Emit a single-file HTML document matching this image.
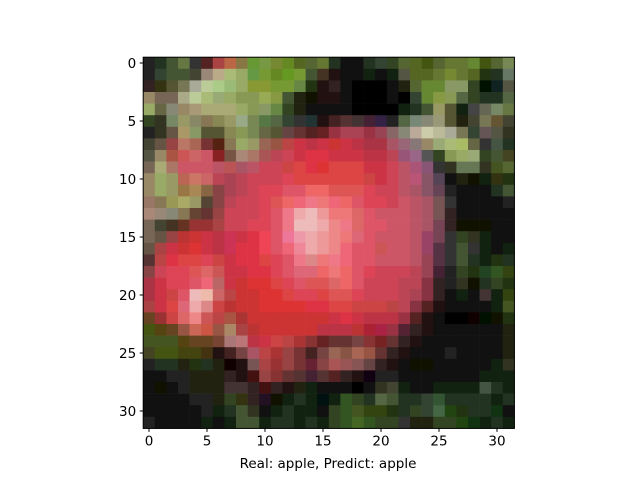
<!DOCTYPE html>
<html><head><meta charset="utf-8">
<style>
html,body{margin:0;padding:0;background:#fff;width:640px;height:480px;overflow:hidden}
svg{display:block}
text{font-family:"DejaVu Sans","Liberation Sans",sans-serif;font-size:13.5px;fill:#000}
</style></head>
<body>
<svg id="chart" width="640" height="480" xmlns="http://www.w3.org/2000/svg">
<g id="cells"></g>
<rect x="143.2" y="57.2" width="371.2" height="371.2" fill="none" stroke="#000" stroke-width="1"/>
<g id="ticks"></g>
<text x="328" y="468" text-anchor="middle">Real: apple, Predict: apple</text>
</svg>
<script>
const rowsLeft = [
"222 232 453 674 333 522 a44 b64 874 693 794 783 682 562 563 673",
"222 343 453 453 443 987 ba8 ab7 9a6 694 793 682 692 793 453 432",
"322 331 553 775 aa9 bc9 ac8 9b7 9a6 893 893 793 793 684 231 211",
"986 765 765 aa8 bc9 ab7 9a7 9a6 895 895 9a5 894 453 221 110 211",
"9a6 664 887 986 a97 aa7 aa7 aa7 9a6 895 896 684 342 221 111 111",
"342 332 786 996 886 875 885 996 9a8 785 574 564 343 333 233 211",
"222 332 654 a96 896 553 553 885 895 785 664 553 644 633 522 622",
"443 654 944 b76 a65 733 521 875 9a6 996 965 954 b44 c34 b34 c34",
"554 986 a54 c55 c66 c56 822 754 a87 a76 a55 b45 c45 c34 d34 d34",
"765 aa7 a76 c56 c56 c56 b56 b55 a56 b56 c45 c45 c44 d44 d34 d33",
"986 9a6 996 b65 c76 c66 b45 a45 b45 c45 c45 c45 d45 d44 d44 d44",
"986 9a6 996 974 a85 864 844 a45 b45 c45 d45 d45 d56 d56 e66 e66",
"976 875 995 aa6 996 543 844 b45 c45 c45 d45 d55 e66 e67 e78 e77",
"a87 987 887 875 643 633 944 c45 c45 c45 d45 d56 e78 eaa ebb e99",
"765 443 432 632 933 933 a44 c45 c45 d45 d45 d56 e78 ebb ebb eaa",
"765 654 944 b33 c33 c34 b34 c35 c34 d34 e45 d56 e79 e9a eaa e99",
"654 a44 c34 c33 d33 c34 b34 c35 d34 d34 e45 d56 e67 e89 eaa e99",
"533 b44 d34 d44 d44 d45 c44 c34 d34 d34 d44 d45 d56 e78 d88 e77",
"844 c45 d45 d45 d55 d66 c55 c34 c34 d34 d34 d45 d56 d67 d67 e66",
"a34 c34 d45 d45 d56 e67 b66 c34 c33 d33 d33 d44 d45 d56 d55 d55",
"a34 c34 c44 d56 ebb eba c66 b44 c33 c33 d33 d33 d44 d45 d45 d44",
"a44 c34 d44 d67 eaa d88 c44 b33 c33 c33 d33 d33 d33 d33 d34 d34",
"642 933 c44 d66 e88 c55 b44 a54 a33 c33 c33 c33 c33 c33 c33 c33",
"451 541 642 954 c65 c54 954 a86 a44 b33 c33 c33 c33 c33 c33 b34",
"452 452 452 541 642 642 743 a77 b77 b34 c34 c44 b44 a33 833 622",
"442 451 451 441 441 431 211 422 744 a56 b44 a33 944 733 422 744",
"222 232 232 221 231 232 221 100 211 755 a44 933 944 733 623 844",
"111 111 222 222 221 221 221 322 211 411 944 833 633 533 423 533",
"111 110 111 222 221 221 221 433 433 322 411 322 211 221 121 111",
"111 111 111 111 222 222 221 342 331 322 212 110 121 232 121 011",
"111 111 111 111 111 222 121 232 453 332 111 121 232 121 121 111",
"222 111 111 111 111 121 111 121 453 453 121 232 232 121 232 121"
];
const rowsRight = [
"232 111 111 232 343 342 563 562 451 563 673 673 683 451 563 785",
"211 111 111 121 111 121 554 562 562 673 783 673 562 231 232 676",
"322 111 000 000 000 111 221 563 683 683 896 896 342 010 122 554",
"211 111 000 000 000 111 000 343 683 894 895 564 342 232 232 564",
"111 111 000 000 000 000 121 232 453 996 553 121 444 665 786 674",
"422 533 433 423 324 222 564 787 887 997 553 221 443 775 653 443",
"934 a45 a45 934 945 866 887 ba9 cca bb9 aa9 775 343 655 554 332",
"c33 c34 b34 a34 a34 a56 967 877 986 9a7 ab7 ab6 664 333 454 232",
"c34 c34 c34 b34 b34 b45 957 968 555 342 895 9a6 9a7 342 453 442",
"d44 d44 d44 c34 c34 c45 b56 a57 857 333 332 675 675 332 452 563",
"d44 d44 d44 c44 c34 c45 b56 b57 856 545 111 221 110 121 331 231",
"d55 d55 d55 d45 c45 c45 b56 a56 856 645 222 111 111 111 232 453",
"e67 e66 d56 d45 d45 c45 c56 b56 a56 755 333 111 111 111 111 222",
"e77 e77 d66 d56 c56 c56 c56 b56 a56 755 322 111 111 111 111 111",
"e88 e78 d66 d56 d56 c56 c56 b56 a56 745 322 110 110 110 111 111",
"e88 e77 d67 d56 c56 c56 c56 b56 946 745 333 342 332 121 111 111",
"e88 e67 d56 d56 c55 c56 c56 b56 946 534 333 453 333 121 111 121",
"e78 e67 d56 d56 c56 c56 c56 b56 945 534 333 453 232 121 231 232",
"e77 e66 d56 d45 c45 c45 c45 b45 945 423 222 342 231 242 352 341",
"d66 e66 d56 c45 c45 c45 b45 b45 834 322 222 332 110 232 342 231",
"d55 d55 d45 c45 c45 c45 b45 a45 834 322 111 121 111 433 121 341",
"d44 d44 c44 c44 c44 b44 b45 834 522 211 111 111 111 111 121 452",
"c34 d34 c34 b34 b34 b34 934 522 211 111 000 000 100 010 110 231",
"b34 b34 b33 a23 a24 934 523 322 211 111 111 111 111 111 111 221",
"633 633 744 833 722 633 322 211 111 111 111 111 111 111 111 221",
"965 854 a65 954 633 322 211 111 111 111 222 111 111 111 111 221",
"a55 955 855 644 322 211 111 110 110 111 111 111 111 111 121 332",
"522 322 211 101 222 222 111 111 111 111 111 111 111 121 121 121",
"111 111 000 111 332 443 121 111 111 121 121 121 121 454 232 121",
"121 352 342 232 564 453 232 232 343 353 232 232 232 232 121 232",
"342 352 452 341 341 231 232 342 343 464 241 231 232 232 131 111",
"342 352 462 352 342 342 333 221 221 342 342 241 131 121 232 121"
];
const tickValues = [0, 5, 10, 15, 20, 25, 30];
const tickLabels = ["0", "5", "10", "15", "20", "25", "30"];

const NS = "http://www.w3.org/2000/svg";
const x0 = 143.2, y0 = 57.2, cell = 11.6;
function xPos(v){ return x0 + (v + 0.5) * cell; }
function yPos(v){ return y0 + (v + 0.5) * cell; }

const cells = document.getElementById('cells');
for (let r = 0; r < rowsLeft.length; r++) {
  const vals = (rowsLeft[r] + " " + rowsRight[r]).split(" ");
  for (let c = 0; c < vals.length; c++) {
    const rect = document.createElementNS(NS, 'rect');
    rect.setAttribute('x', (xPos(c) - cell / 2).toFixed(2));
    rect.setAttribute('y', (yPos(r) - cell / 2).toFixed(2));
    rect.setAttribute('width', (cell + 0.3).toFixed(2));
    rect.setAttribute('height', (cell + 0.3).toFixed(2));
    rect.setAttribute('fill', '#' + vals[c]);
    
    
    cells.appendChild(rect);
  }
}

const ticks = document.getElementById('ticks');
const yBottom = y0 + 32 * cell;
tickValues.forEach((v, i) => {
  const xt = xPos(v);
  const l1 = document.createElementNS(NS, 'line');
  l1.setAttribute('x1', xt); l1.setAttribute('x2', xt);
  l1.setAttribute('y1', yBottom); l1.setAttribute('y2', yBottom + 3.5);
  l1.setAttribute('stroke', '#000');
  
  
  ticks.appendChild(l1);
  const t1 = document.createElementNS(NS, 'text');
  t1.setAttribute('x', xt); t1.setAttribute('y', yBottom + 17);
  t1.setAttribute('text-anchor', 'middle');
  t1.textContent = tickLabels[i];
  
  
  ticks.appendChild(t1);

  const yt = yPos(v);
  const l2 = document.createElementNS(NS, 'line');
  l2.setAttribute('x1', x0 - 3.5); l2.setAttribute('x2', x0);
  l2.setAttribute('y1', yt); l2.setAttribute('y2', yt);
  l2.setAttribute('stroke', '#000');
  
  
  ticks.appendChild(l2);
  const t2 = document.createElementNS(NS, 'text');
  t2.setAttribute('x', x0 - 7); t2.setAttribute('y', yt + 5);
  t2.setAttribute('text-anchor', 'end');
  t2.textContent = tickLabels[i];
  
  
  ticks.appendChild(t2);
});
</script>
</body></html>
